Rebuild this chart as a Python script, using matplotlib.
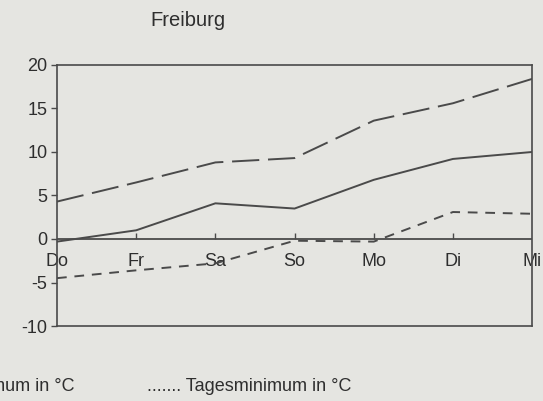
import matplotlib
matplotlib.use('Agg')
import matplotlib.pyplot as plt

# Freiburg, daily temperatures
days = ['Do', 'Fr', 'Sa', 'So', 'Mo', 'Di', 'Mi']
t_max = [4.3, 6.5, 8.8, 9.3, 13.6, 15.6, 18.4]
t_mean = [-0.3, 1.0, 4.1, 3.5, 6.8, 9.2, 10.0]
t_min = [-4.5, -3.6, -2.8, -0.2, -0.3, 3.1, 2.9]
y_ticks = [-10, -5, 0, 5, 10, 15, 20]

BG = '#e5e5e1'
INK = '#4a4a4a'
TXT = '#2e2e2e'

plt.rcParams['font.family'] = ['Liberation Sans', 'DejaVu Sans']
plt.rcParams['axes.unicode_minus'] = False

fig = plt.figure(figsize=(5.43, 4.01), dpi=100, facecolor=BG)
ax = fig.add_axes([0.105, 0.187, 0.875, 0.651])
ax.set_facecolor(BG)

x = list(range(len(days)))
ax.plot(x, t_max, color=INK, lw=1.4, dashes=(14, 4.5))
ax.plot(x, t_mean, color=INK, lw=1.4)
ax.plot(x, t_min, color=INK, lw=1.4, dashes=(5, 4))
ax.axhline(0, color=INK, lw=1.3)

ax.set_xlim(0, len(days) - 1)
ax.set_ylim(-10, 20)
ax.set_yticks(y_ticks)
ax.tick_params(axis='y', direction='out', length=4, width=1, color=INK,
               labelsize=13, labelcolor=TXT, pad=3)
ax.set_xticks([])
for s in ax.spines.values():
    s.set_color(INK)
    s.set_linewidth(1.2)

# day labels sit on the zero line
sec = ax.secondary_xaxis(0, transform=ax.transData)
sec.set_xticks(x, days)
sec.spines['bottom'].set_visible(False)
sec.tick_params(direction='in', length=4, width=1, color=INK,
                labelsize=13, labelcolor=TXT, pad=10)
ticks = sec.xaxis.get_major_ticks()
ticks[0].tick1line.set_visible(False)
ticks[-1].tick1line.set_visible(False)

fig.text(0.347, 0.948, 'Freiburg', ha='center', va='center', fontsize=14.5, color=TXT)
fig.text(0.138, 0.036, 'Tagesmaximum in °C', ha='right', va='center', fontsize=13, color=TXT)
fig.text(0.271, 0.036, '....... Tagesminimum in °C', ha='left', va='center', fontsize=13, color=TXT)

fig.savefig('out.png', dpi=100, facecolor=BG)
